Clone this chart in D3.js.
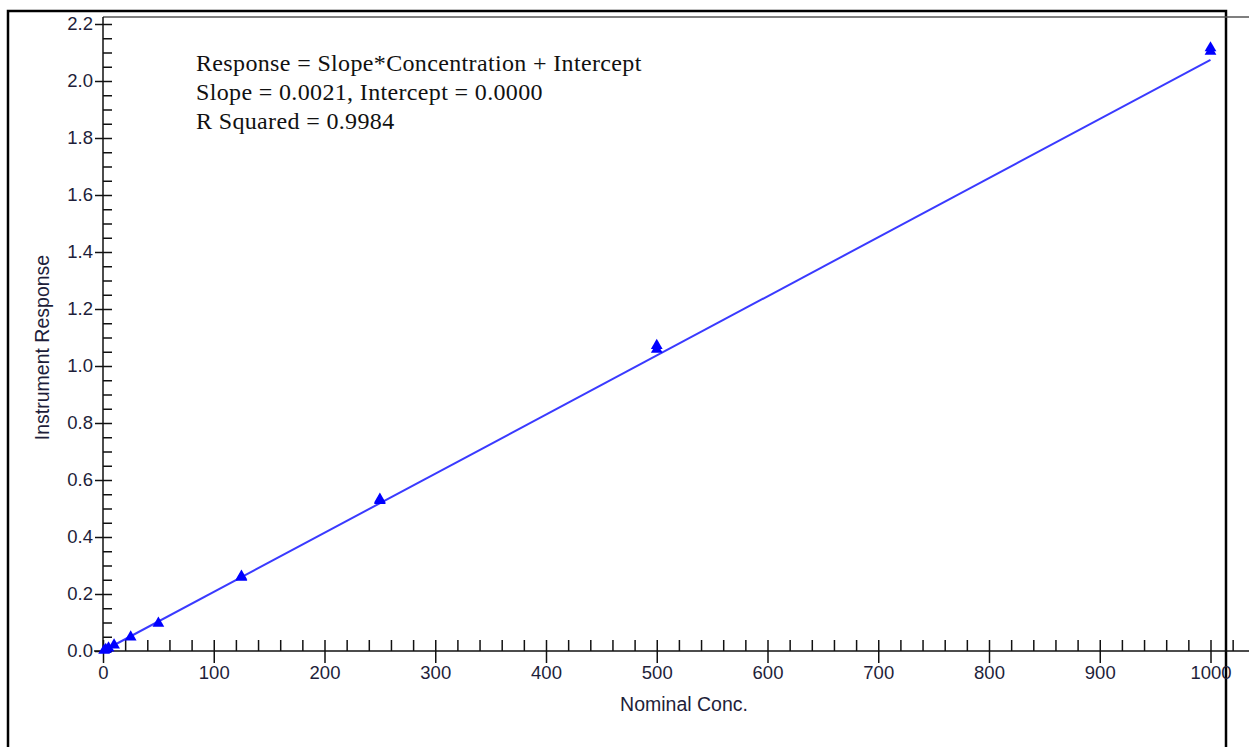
<!DOCTYPE html>
<html>
<head>
<meta charset="utf-8">
<script src="https://cdn.jsdelivr.net/npm/d3@7/dist/d3.min.js"></script>
<style>
  body { margin: 0; background: #fff; }
  svg { display: block; }
</style>
</head>
<body>
<div id="chart"></div>
<script>
// ==================== 数据 ====================
const concentrations = [1, 2.5, 5, 10, 25, 50, 125, 125, 250, 250, 500, 500, 1000, 1000];
const responses      = [0.002, 0.005, 0.010, 0.021, 0.049, 0.097, 0.258, 0.262, 0.528, 0.532, 1.058, 1.072, 2.104, 2.116];

// 回归参数 (显示值四舍五入)
const fitSlope = 0.002074;
const fitIntercept = 0.0;
const fitRange = [0, 1000];

const equationLines = [
    "Response = Slope*Concentration + Intercept",
    "Slope = 0.0021, Intercept = 0.0000",
    "R Squared = 0.9984"
];

const xMajorTicks = d3.range(0, 1001, 100);
const xMinorTicks = d3.range(0, 1021, 20);
const yMajorTicks = d3.range(0, 2.21, 0.2);
const yMinorTicks = d3.range(0, 2.21, 0.05);

// ==================== 配置 ====================
const config = {
    width: 1249,
    height: 747,
    axisX: 103,
    axisY: 651,
    xRight: 1210.5,
    yTop: 24,
    frameTop: 17,
    tickFont: "18.5px 'Liberation Sans', Arial, sans-serif",
    titleFont: "19.5px 'Liberation Sans', Arial, sans-serif",
    textColor: "#1e1e3a",
    lineColor: "#3a3aff",
    markColor: "#0000ff"
};

const svg = d3.select("#chart").append("svg")
    .attr("width", config.width)
    .attr("height", config.height);

const x = d3.scaleLinear().domain([0, 1000]).range([config.axisX, config.xRight]);
const y = d3.scaleLinear().domain([0, 2.2]).range([config.axisY, config.yTop]);

// 外框
svg.append("rect")
    .attr("x", 8).attr("y", 11)
    .attr("width", 1218).attr("height", 760)
    .attr("fill", "none")
    .attr("stroke", "#000")
    .attr("stroke-width", 2.5);

// 顶部框线
svg.append("line")
    .attr("x1", config.axisX).attr("x2", config.width)
    .attr("y1", config.frameTop).attr("y2", config.frameTop)
    .attr("stroke", "#555").attr("stroke-width", 1.5);

// ---- Y 轴 ----
const yLeft = svg.append("g")
    .attr("transform", `translate(${config.axisX},0)`)
    .call(d3.axisLeft(y).tickValues(yMajorTicks).tickSize(8).tickPadding(2).tickFormat(d3.format(".1f")));
const yRight = svg.append("g")
    .attr("transform", `translate(${config.axisX},0)`)
    .call(d3.axisRight(y).tickValues(yMinorTicks).tickSize(9).tickFormat(""));

// ---- X 轴 ----
const xBottom = svg.append("g")
    .attr("transform", `translate(0,${config.axisY})`)
    .call(d3.axisBottom(x).tickValues(xMajorTicks).tickSize(12).tickPadding(3).tickFormat(d3.format("d")));
const xTop = svg.append("g")
    .attr("transform", `translate(0,${config.axisY})`)
    .call(d3.axisTop(x).tickValues(xMinorTicks).tickSize(11).tickFormat(""));

[yLeft, yRight, xBottom, xTop].forEach(g => {
    g.select(".domain").remove();
    g.selectAll(".tick line").attr("stroke", "#111").attr("stroke-width", 1.5);
    g.selectAll(".tick text")
        .style("font", config.tickFont)
        .attr("fill", config.textColor);
});

// 轴线
svg.append("line")
    .attr("x1", config.axisX).attr("x2", config.axisX)
    .attr("y1", config.frameTop).attr("y2", config.axisY)
    .attr("stroke", "#111").attr("stroke-width", 1.5);
svg.append("line")
    .attr("x1", 94).attr("x2", config.width)
    .attr("y1", config.axisY).attr("y2", config.axisY)
    .attr("stroke", "#111").attr("stroke-width", 1.5);

// 轴标题
svg.append("text")
    .attr("transform", `translate(49,${(config.yTop + config.axisY) / 2 + 10}) rotate(-90)`)
    .attr("text-anchor", "middle")
    .style("font", config.titleFont)
    .attr("fill", config.textColor)
    .text("Instrument Response");

svg.append("text")
    .attr("x", 684).attr("y", 711)
    .attr("text-anchor", "middle")
    .style("font", config.titleFont)
    .attr("fill", config.textColor)
    .text("Nominal Conc.");

// ---- 拟合直线 ----
svg.append("line")
    .attr("x1", x(fitRange[0])).attr("y1", y(fitSlope * fitRange[0] + fitIntercept))
    .attr("x2", x(fitRange[1])).attr("y2", y(fitSlope * fitRange[1] + fitIntercept))
    .attr("stroke", config.lineColor)
    .attr("stroke-width", 2);

// ---- 数据点 (三角形) ----
const points = concentrations.map((c, i) => ({conc: c, resp: responses[i]}));
svg.append("g").selectAll("path")
    .data(points)
    .join("path")
    .attr("transform", d => `translate(${x(d.conc)},${y(d.resp)})`)
    .attr("d", d3.symbol(d3.symbolTriangle, 60))
    .attr("fill", config.markColor);

// ---- 回归方程文字 ----
svg.append("g").selectAll("text")
    .data(equationLines)
    .join("text")
    .attr("x", 196)
    .attr("y", (d, i) => 71 + i * 29)
    .style("font", "24px 'Liberation Serif', 'Times New Roman', serif")
    .style("letter-spacing", "0.35px")
    .attr("fill", "#111")
    .text(d => d);
</script>
</body>
</html>
